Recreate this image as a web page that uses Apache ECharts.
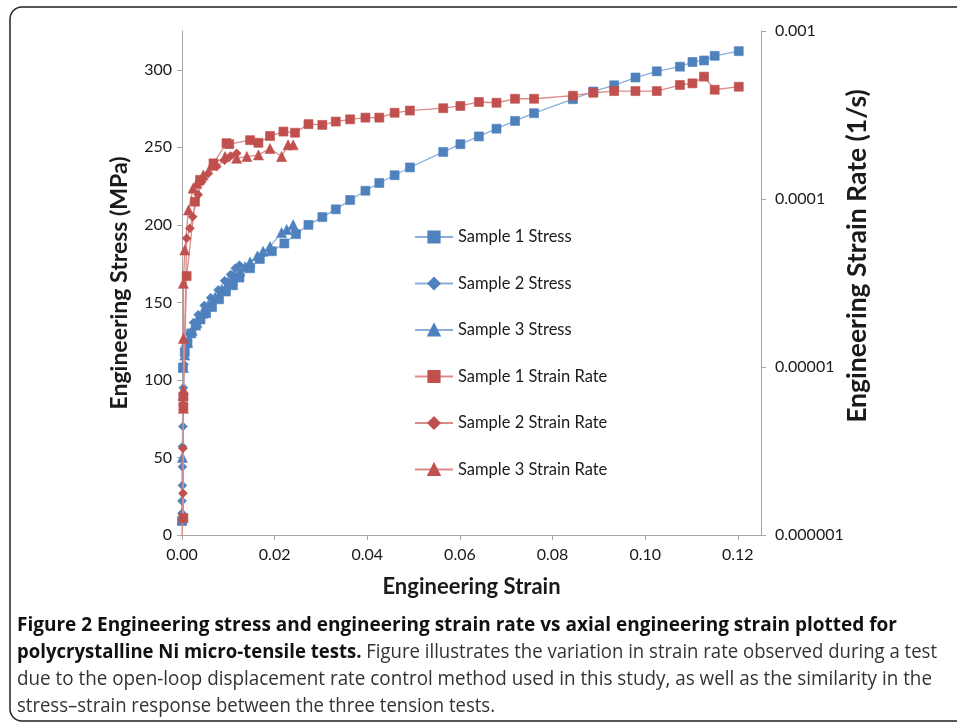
<!DOCTYPE html>
<html>
<head>
<meta charset="utf-8">
<script src="https://cdn.jsdelivr.net/npm/echarts@6/dist/echarts.min.js"></script>
<style>
html,body{margin:0;padding:0;background:#fff;}
#chart{width:957px;height:725px;}
</style>
</head>
<body>
<div id="chart"></div>
<script>
// ---------- DATA ----------
const seriesNames = ['Sample 1 Stress','Sample 2 Stress','Sample 3 Stress','Sample 1 Strain Rate','Sample 2 Strain Rate','Sample 3 Strain Rate'];

const sample1Stress = [[0.0000,9],[0.0002,108],[0.0006,118],[0.0012,124],[0.0020,130],[0.0030,135],[0.0040,139],[0.0052,143],[0.0065,147],[0.0080,152],[0.0095,157],[0.0110,161],[0.0124,166],[0.0147,172],[0.0168,178],[0.0194,183],[0.0221,188],[0.0246,194],[0.0273,200],[0.0303,205],[0.0332,210],[0.0363,216],[0.0396,222],[0.0426,227],[0.0459,232],[0.0492,237],[0.0564,247],[0.0601,252],[0.0641,257],[0.0679,262],[0.0719,267],[0.0760,272],[0.0844,281],[0.0888,286],[0.0933,290],[0.0979,295],[0.1025,299],[0.1075,302],[0.1102,305],[0.1127,306],[0.1150,309],[0.1202,312]];

const sample2Stress = [[0.0000,14],[0.0000,22],[0.0001,32],[0.0001,44],[0.0001,57],[0.0002,70],[0.0002,84],[0.0003,95],[0.0004,110],[0.0008,122],[0.0015,130],[0.0025,137],[0.0035,142],[0.0048,148],[0.0062,153],[0.0078,158],[0.0092,164],[0.0105,168],[0.0115,172],[0.0124,174]];

const sample3Stress = [[0.0000,10],[0.0001,50],[0.0002,90],[0.0003,108],[0.0006,116],[0.0012,124],[0.0022,132],[0.0032,137],[0.0045,143],[0.0058,148],[0.0072,153],[0.0086,158],[0.0100,163],[0.0112,167],[0.0125,170],[0.0136,173],[0.0147,176],[0.0163,180],[0.0175,183],[0.0190,186],[0.0215,195],[0.0226,197],[0.0240,200]];

const sample1Rate = [[0.0003,1.26e-6],[0.0003,5.8e-6],[0.0003,6.66e-6],[0.0010,3.48e-5],[0.0028,9.64e-5],[0.0039,1.30e-4],[0.0068,1.63e-4],[0.0096,2.15e-4],[0.0102,2.12e-4],[0.0147,2.24e-4],[0.0165,2.16e-4],[0.0190,2.37e-4],[0.0219,2.52e-4],[0.0244,2.48e-4],[0.0273,2.79e-4],[0.0303,2.76e-4],[0.0332,2.89e-4],[0.0363,2.98e-4],[0.0396,3.05e-4],[0.0426,3.05e-4],[0.0459,3.26e-4],[0.0492,3.36e-4],[0.0564,3.47e-4],[0.0601,3.58e-4],[0.0641,3.78e-4],[0.0679,3.74e-4],[0.0719,3.95e-4],[0.0760,3.95e-4],[0.0844,4.12e-4],[0.0888,4.29e-4],[0.0933,4.39e-4],[0.0979,4.39e-4],[0.1025,4.39e-4],[0.1075,4.77e-4],[0.1102,4.88e-4],[0.1127,5.35e-4],[0.1150,4.47e-4],[0.1202,4.66e-4]];

const sample2Rate = [[0.0000,9e-7],[0.0002,1.77e-6],[0.0002,3.28e-6],[0.0003,6.5e-6],[0.0010,5.83e-5],[0.0017,6.69e-5],[0.0023,7.85e-5],[0.0035,1.06e-4],[0.0043,1.27e-4],[0.0057,1.42e-4],[0.0075,1.56e-4],[0.0092,1.70e-4],[0.0105,1.80e-4],[0.0118,1.87e-4]];

const sample3Rate = [[0.0003,5.68e-6],[0.0003,7.3e-6],[0.0003,1.48e-5],[0.0003,3.15e-5],[0.0006,4.97e-5],[0.0014,8.6e-5],[0.0024,1.16e-4],[0.0032,1.24e-4],[0.0046,1.39e-4],[0.0064,1.59e-4],[0.0093,1.79e-4],[0.0118,1.75e-4],[0.0140,1.79e-4],[0.0165,1.83e-4],[0.0190,2.0e-4],[0.0215,1.79e-4],[0.0229,2.10e-4],[0.0240,2.10e-4]];

const xTicks = [0,0.02,0.04,0.06,0.08,0.10,0.12];
const yStressTicks = [0,50,100,150,200,250,300];
const yRateTicks = [0.000001,0.00001,0.0001,0.001];

const xTitle = 'Engineering Strain';
const yLeftTitle = 'Engineering Stress (MPa)';
const yRightTitle = 'Engineering Strain Rate (1/s)';

const captionBoldLine1 = 'Figure 2 Engineering stress and engineering strain rate vs axial engineering strain plotted for';
const captionBoldLine2 = 'polycrystalline Ni micro-tensile tests.';
const captionLine2 = ' Figure illustrates the variation in strain rate observed during a test';
const captionLine3 = 'due to the open-loop displacement rate control method used in this study, as well as the similarity in the';
const captionLine4 = 'stress\u2013strain response between the three tension tests.';

// ---------- STYLE ----------
const FONT = 'Lato, "Open Sans", sans-serif';
const CAP_FONT = '"Open Sans", "Noto Sans", sans-serif';
const CAP_SIZE = 20;
const BLUE = '#4F81BD', BLUE_LINE = '#8BAEDB';
const RED = '#C0504D', RED_LINE = '#DA8B89';
const AXIS_COLOR = '#A6A6A6';
const TEXT_COLOR = '#1a1a1a';

const measureCtx = document.createElement('canvas').getContext('2d');
function textW(t, weight){ measureCtx.font = weight + ' ' + CAP_SIZE + 'px ' + CAP_FONT; return measureCtx.measureText(t).width; }

const chart = echarts.init(document.getElementById('chart'), null, {renderer:'canvas'});

function mkSeries(name, data, color, lineColor, symbol, size, yIdx){
  return {
    name, type:'line', data, yAxisIndex:yIdx, symbol, symbolSize:size,
    showAllSymbol:true, animation:false,
    itemStyle:{color:color, borderColor:color, borderWidth:0.6},
    lineStyle:{color:lineColor, width:1.3},
    emphasis:{disabled:true}, z: yIdx===1?3:2
  };
}

const fmtX = v => (xTicks.some(t=>Math.abs(t-v)<1e-9) ? v.toFixed(2) : '');
const fmtYL = v => (yStressTicks.indexOf(v) >= 0 ? String(v) : '');
const fmtYR = v => { const e = Math.round(Math.log10(v)); return (Math.pow(10,e)).toFixed(-e); };

// caption lines
const capX = 17;
const capTargets = [880, 920, 915, 478];
const w1 = textW(captionBoldLine1,'bold');
const w2 = textW(captionBoldLine2,'bold') + textW(captionLine2,'normal');
const w3 = textW(captionLine3,'normal');
const w4 = textW(captionLine4,'normal');
const scales = [capTargets[0]/w1, capTargets[1]/w2, capTargets[2]/w3, capTargets[3]/w4];

const richStyles = {
  b:{fontFamily:CAP_FONT, fontSize:CAP_SIZE, fontWeight:'bold', fill:'#111', color:'#111'},
  r:{fontFamily:CAP_FONT, fontSize:CAP_SIZE, fontWeight:'normal', fill:'#333', color:'#333'}
};

function capText(y, text, s){
  return {type:'text', x:capX, y:y, scaleX:s, scaleY:1, silent:true,
    style:{text:text, rich:richStyles, verticalAlign:'middle', align:'left', fontFamily:CAP_FONT, fontSize:CAP_SIZE}};
}

const option = {
  backgroundColor:'#fff',
  animation:false,
  grid:{left:182, right:196, top:31, bottom:190, containLabel:false},
  legend:{
    orient:'vertical', left:414, top:228.5, padding:0, itemWidth:38, itemHeight:14, itemGap:29.5,
    textStyle:{fontFamily:FONT, fontSize:16.5, color:TEXT_COLOR},
    data: seriesNames
  },
  xAxis:{
    type:'value', min:0, max:0.125, interval:0.02,
    name:xTitle, nameLocation:'middle', nameGap:41,
    nameTextStyle:{fontFamily:FONT, fontSize:22, fontWeight:'bold', color:TEXT_COLOR},
    axisLine:{show:true, lineStyle:{color:AXIS_COLOR, width:1}},
    axisTick:{show:true, length:5, lineStyle:{color:AXIS_COLOR}, customValues:xTicks},
    axisLabel:{fontFamily:FONT, fontSize:16, color:TEXT_COLOR, margin:12, formatter:fmtX, customValues:xTicks},
    splitLine:{show:false}
  },
  yAxis:[{
    type:'value', min:0, max:325, interval:50, position:'left',
    name:yLeftTitle, nameLocation:'middle', nameGap:51, nameRotate:90,
    nameTextStyle:{fontFamily:FONT, fontSize:23, fontWeight:'bold', color:TEXT_COLOR},
    axisLine:{show:true, lineStyle:{color:AXIS_COLOR, width:1}},
    axisTick:{show:true, length:5, lineStyle:{color:AXIS_COLOR}, customValues:yStressTicks},
    axisLabel:{fontFamily:FONT, fontSize:16, color:TEXT_COLOR, margin:10, formatter:fmtYL, customValues:yStressTicks},
    splitLine:{show:false}
  },{
    type:'log', logBase:10, min:1e-6, max:1e-3, position:'right',
    axisLine:{show:true, lineStyle:{color:AXIS_COLOR, width:1}},
    axisTick:{show:true, length:5, lineStyle:{color:AXIS_COLOR}},
    axisLabel:{fontFamily:FONT, fontSize:16, color:TEXT_COLOR, margin:14, formatter:fmtYR},
    splitLine:{show:false}
  }],
  series:[
    mkSeries(seriesNames[0], sample1Stress, BLUE, BLUE_LINE, 'rect', 9, 0),
    mkSeries(seriesNames[1], sample2Stress, BLUE, BLUE_LINE, 'diamond', 9, 0),
    mkSeries(seriesNames[2], sample3Stress, BLUE, BLUE_LINE, 'triangle', 10, 0),
    mkSeries(seriesNames[3], sample1Rate, RED, RED_LINE, 'rect', 9, 1),
    mkSeries(seriesNames[4], sample2Rate, RED, RED_LINE, 'diamond', 9, 1),
    mkSeries(seriesNames[5], sample3Rate, RED, RED_LINE, 'triangle', 10, 1)
  ],
  graphic:[
    {type:'rect', silent:true, shape:{x:10, y:7, width:960, height:714, r:12}, style:{fill:'none', stroke:'#222', lineWidth:1.5}},
    {type:'text', silent:true, x:857, y:256, rotation:Math.PI/2,
      style:{text:yRightTitle, fontFamily:FONT, fontSize:26.5, fontWeight:'bold', fill:TEXT_COLOR, align:'center', verticalAlign:'middle'}},
    capText(625, '{b|' + captionBoldLine1 + '}', scales[0]),
    capText(652, '{b|' + captionBoldLine2 + '}{r|' + captionLine2 + '}', scales[1]),
    capText(679, '{r|' + captionLine3 + '}', scales[2]),
    capText(706, '{r|' + captionLine4 + '}', scales[3])
  ]
};
chart.setOption(option);
</script>
</body>
</html>
